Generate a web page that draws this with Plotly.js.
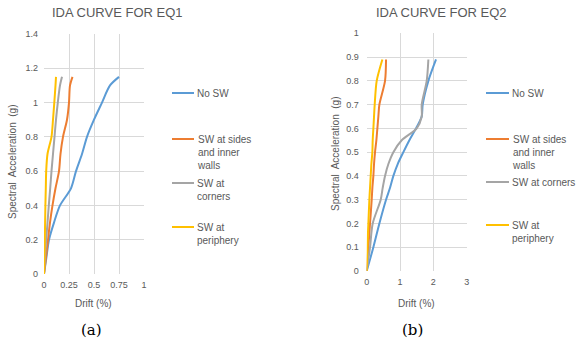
<!DOCTYPE html>
<html>
<head>
<meta charset="utf-8">
<script src="https://cdn.plot.ly/plotly-3.0.1.min.js"></script>
<style>html,body{margin:0;padding:0;background:#fff;}#chart{width:588px;height:341px;}</style>
</head>
<body>
<div id="chart"></div>
<script>
// ---- Data ----
const seriesNames = ["No SW", "SW at sides and inner walls", "SW at corners", "SW at periphery"];
const seriesColors = ["#5B9BD5", "#ED7D31", "#A5A5A5", "#FFC000"];

// EQ1: spectral acceleration (g) vs drift (%)
const saEQ1 = [0, 0.1, 0.2, 0.3, 0.4, 0.5, 0.6, 0.7, 0.8, 0.9, 1.0, 1.1, 1.15];
const eq1NoSW      = [0, 0.025, 0.05, 0.1, 0.16, 0.27, 0.32, 0.38, 0.43, 0.5, 0.58, 0.66, 0.75];
const eq1Sides     = [0, 0.02, 0.04, 0.06, 0.085, 0.115, 0.15, 0.165, 0.19, 0.23, 0.25, 0.26, 0.285];
const eq1Corners   = [0, 0.01, 0.022, 0.035, 0.048, 0.062, 0.075, 0.09, 0.105, 0.12, 0.138, 0.16, 0.18];
const eq1Periphery = [0, 0.004, 0.008, 0.011, 0.014, 0.018, 0.022, 0.035, 0.075, 0.09, 0.103, 0.115, 0.12];

// EQ2
const saEQ2 = [0, 0.1, 0.2, 0.3, 0.35, 0.4, 0.45, 0.5, 0.55, 0.6, 0.65, 0.7, 0.8, 0.89];
const eq2NoSW      = [0, 0.2, 0.38, 0.58, 0.7, 0.8, 0.93, 1.1, 1.28, 1.48, 1.65, 1.68, 1.85, 2.08];
const eq2Sides     = [0, 0.05, 0.1, 0.15, 0.17, 0.2, 0.22, 0.25, 0.29, 0.32, 0.35, 0.38, 0.55, 0.58];
const eq2Corners   = [0, 0.1, 0.18, 0.42, 0.48, 0.55, 0.65, 0.8, 1.05, 1.5, 1.65, 1.65, 1.8, 1.85];
const eq2Periphery = [0, 0.02, 0.05, 0.08, 0.1, 0.12, 0.14, 0.17, 0.18, 0.2, 0.22, 0.24, 0.3, 0.47];

const chartTitles = ["IDA CURVE FOR EQ1", "IDA CURVE FOR EQ2"];
const xTitle = "Drift (%)";
const yTitle = "Spectral  Acceleration  (g)";
const panelLabels = ["(a)", "(b)"];
const legendLabels1 = ["No SW", "SW at sides<br>and inner<br>walls", "SW at<br>corners", "SW at<br>periphery"];
const legendLabels2 = ["No SW", "SW at sides<br>and inner<br>walls", "SW at corners", "SW at<br>periphery"];

// ---- Build ----
const W = 588, H = 341;
const px = v => v / W;
const py = v => 1 - v / H;
const txt = "#595959";
const font = "Liberation Sans, Arial, sans-serif";

const eq1 = [eq1NoSW, eq1Sides, eq1Corners, eq1Periphery];
const eq2 = [eq2NoSW, eq2Sides, eq2Corners, eq2Periphery];
const traces = [];
eq1.forEach((d, i) => traces.push({x: d, y: saEQ1, xaxis: 'x', yaxis: 'y', type: 'scatter', mode: 'lines',
  name: seriesNames[i], line: {color: seriesColors[i], width: 2, shape: 'spline', smoothing: 0.8}, showlegend: false, hoverinfo: 'skip'}));
eq2.forEach((d, i) => traces.push({x: d, y: saEQ2, xaxis: 'x2', yaxis: 'y2', type: 'scatter', mode: 'lines',
  name: seriesNames[i], line: {color: seriesColors[i], width: 2, shape: 'spline', smoothing: 0.8}, showlegend: false, hoverinfo: 'skip'}));

const axBase = {showgrid: true, gridcolor: '#d9d9d9', gridwidth: 1, zeroline: false, showline: false,
  ticks: '', tickfont: {family: font, size: 9, color: txt}, fixedrange: true};

const layout = {
  width: W, height: H, margin: {l: 0, r: 0, t: 0, b: 0},
  paper_bgcolor: '#fff', plot_bgcolor: '#fff', showlegend: false,
  xaxis:  Object.assign({}, axBase, {domain: [px(44), px(144)], range: [0, 1], dtick: 0.25, anchor: 'y', ticklabelstandoff: 4}),
  yaxis:  Object.assign({}, axBase, {domain: [1 - 274 / H, 1 - 34 / H], range: [0, 1.4], dtick: 0.2, anchor: 'x', ticklabelstandoff: 5}),
  xaxis2: Object.assign({}, axBase, {domain: [px(366.7), px(466.7)], range: [0, 3], dtick: 1, anchor: 'y2', ticklabelstandoff: 4}),
  yaxis2: Object.assign({}, axBase, {domain: [1 - 271 / H, 1 - 33.3 / H], range: [0, 1], dtick: 0.1, anchor: 'x2', ticklabelstandoff: 7}),
  shapes: [], annotations: []
};

// titles, axis titles, panel labels
const titleX = [117, 441];
const xTitleX = [93, 416];
const yTitleX = [12, 335];
const yTitleY = [162, 154];
const panelX = [91, 413];
for (let k = 0; k < 2; k++) {
  layout.annotations.push({text: chartTitles[k], xref: 'paper', yref: 'paper', x: px(titleX[k]), y: py(13),
    showarrow: false, xanchor: 'center', yanchor: 'middle', font: {family: font, size: 13, color: txt}});
  layout.annotations.push({text: xTitle, xref: 'paper', yref: 'paper', x: px(xTitleX[k]), y: py(303),
    showarrow: false, xanchor: 'center', yanchor: 'middle', font: {family: font, size: 10, color: txt}});
  layout.annotations.push({text: yTitle, xref: 'paper', yref: 'paper', x: px(yTitleX[k]), y: py(yTitleY[k]),
    showarrow: false, xanchor: 'center', yanchor: 'middle', textangle: -90, font: {family: font, size: 10, color: txt}});
  layout.annotations.push({text: panelLabels[k], xref: 'paper', yref: 'paper', x: px(panelX[k]), y: py(330),
    showarrow: false, xanchor: 'center', yanchor: 'middle', font: {family: 'DejaVu Serif, serif', size: 15, color: '#000'}});
}

// custom legends
const legY1 = [93, 139, 183, 227];
const legY2 = [93, 139, 182, 225];
const legends = [{x0: 172, x1: 194, ys: legY1, labels: legendLabels1}, {x0: 486, x1: 509, ys: legY2, labels: legendLabels2}];
legends.forEach(L => {
  L.ys.forEach((yy, i) => {
    layout.shapes.push({type: 'line', xref: 'paper', yref: 'paper', x0: px(L.x0), x1: px(L.x1), y0: py(yy), y1: py(yy),
      line: {color: seriesColors[i], width: 2}});
    layout.annotations.push({text: L.labels[i], xref: 'paper', yref: 'paper', x: px(L.x1 + 1), y: py(yy - 7),
      showarrow: false, xanchor: 'left', yanchor: 'top', align: 'left', font: {family: font, size: 10, color: txt}});
  });
});

Plotly.newPlot('chart', traces, layout, {staticPlot: true, displayModeBar: false});
</script>
</body>
</html>
